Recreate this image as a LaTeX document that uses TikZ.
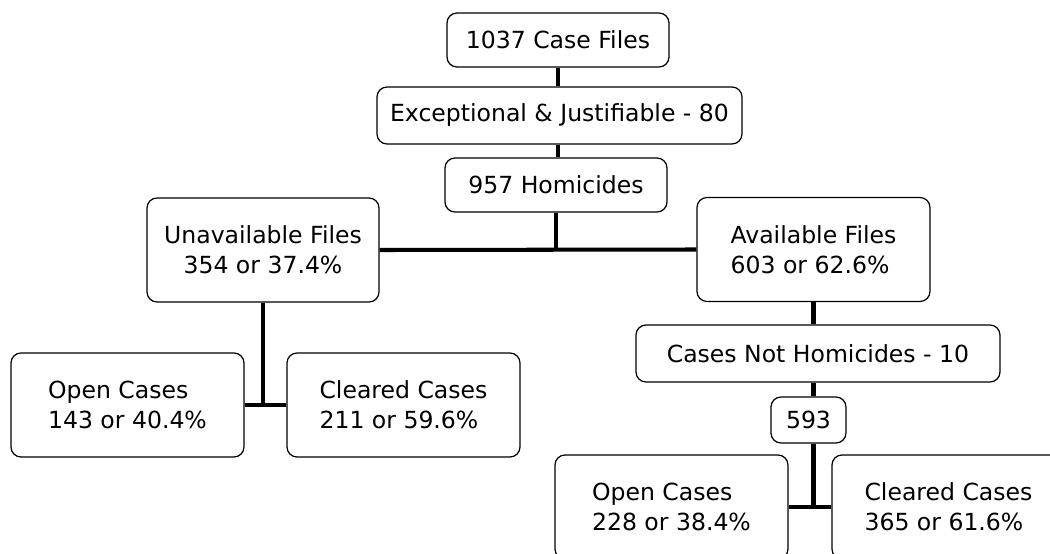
\documentclass[tikz,border=0pt]{standalone}
\usepackage{fontspec}
\setmainfont{DejaVu Sans}
\usepackage{tikz}

\begin{document}
\begin{tikzpicture}[font=\fontsize{13.4}{17}\selectfont,
        box/.style={draw=black, line width=0.7pt, rounded corners=0.2cm,
        inner sep=0pt, align=center},
        leftbox/.style={draw=black, line width=0.7pt, rounded corners=0.2cm,
        inner sep=0pt, align=left, minimum width=4.66cm, minimum height=2.08cm},
        link/.style={black, line width=2.3pt}]
        \clip (0,0) rectangle (21,-11.08);

        \node[box, minimum width=4.44cm, minimum height=1.08cm] (files) at (11.16,-0.80) {1037 Case Files};
        \node[box, minimum width=7.30cm, minimum height=1.14cm] (except) at (11.19,-2.31) {Exceptional \& Justifiable - 80};
        \node[box, minimum width=4.44cm, minimum height=1.08cm] (homicides) at (11.12,-3.70) {957 Homicides};

        \node[box, minimum width=4.64cm, minimum height=2.08cm] (unavail) at (5.26,-5.00) {Unavailable Files\\354 or 37.4\%};
        \node[leftbox] (avail) at (16.27,-4.99) {Available Files\\603 or 62.6\%};

        \node[leftbox] (openL) at (2.55,-8.10) {Open Cases\\143 or 40.4\%};
        \node[leftbox] (clearedL) at (8.07,-8.10) {Cleared Cases\\211 or 59.6\%};

        \node[box, minimum width=7.28cm, minimum height=1.14cm] (nothom) at (16.36,-7.07) {Cases Not Homicides - 10};
        \node[box, minimum width=1.50cm, minimum height=0.92cm] (rest) at (16.17,-8.40) {593};

        \node[leftbox] (openR) at (13.43,-10.14) {Open Cases\\228 or 38.4\%};
        \node[leftbox] (clearedR) at (18.97,-10.14) {Cleared Cases\\365 or 61.6\%};

        % upper trunk
        \draw[link] (files.south) -- (files.south |- except.north);
        \draw[link] (except.south -| files.south) -- (files.south |- homicides.north);
        \draw[link] (homicides.south) -- (homicides.south |- unavail.east);
        \draw[link] (unavail.east) -- (avail.west);

        % unavailable branch
        \draw[link] (unavail.south) -- (unavail.south |- openL.east);
        \draw[link] (openL.east) -- (clearedL.west);

        % available branch
        \draw[link] (avail.south) -- (avail.south |- nothom.north);
        \draw[link] (avail.south |- nothom.south) -- (avail.south |- rest.north);
        \draw[link] (avail.south |- rest.south) -- (avail.south |- openR.east);
        \draw[link] (openR.east) -- (clearedR.west);
    \end{tikzpicture}
\end{document}
